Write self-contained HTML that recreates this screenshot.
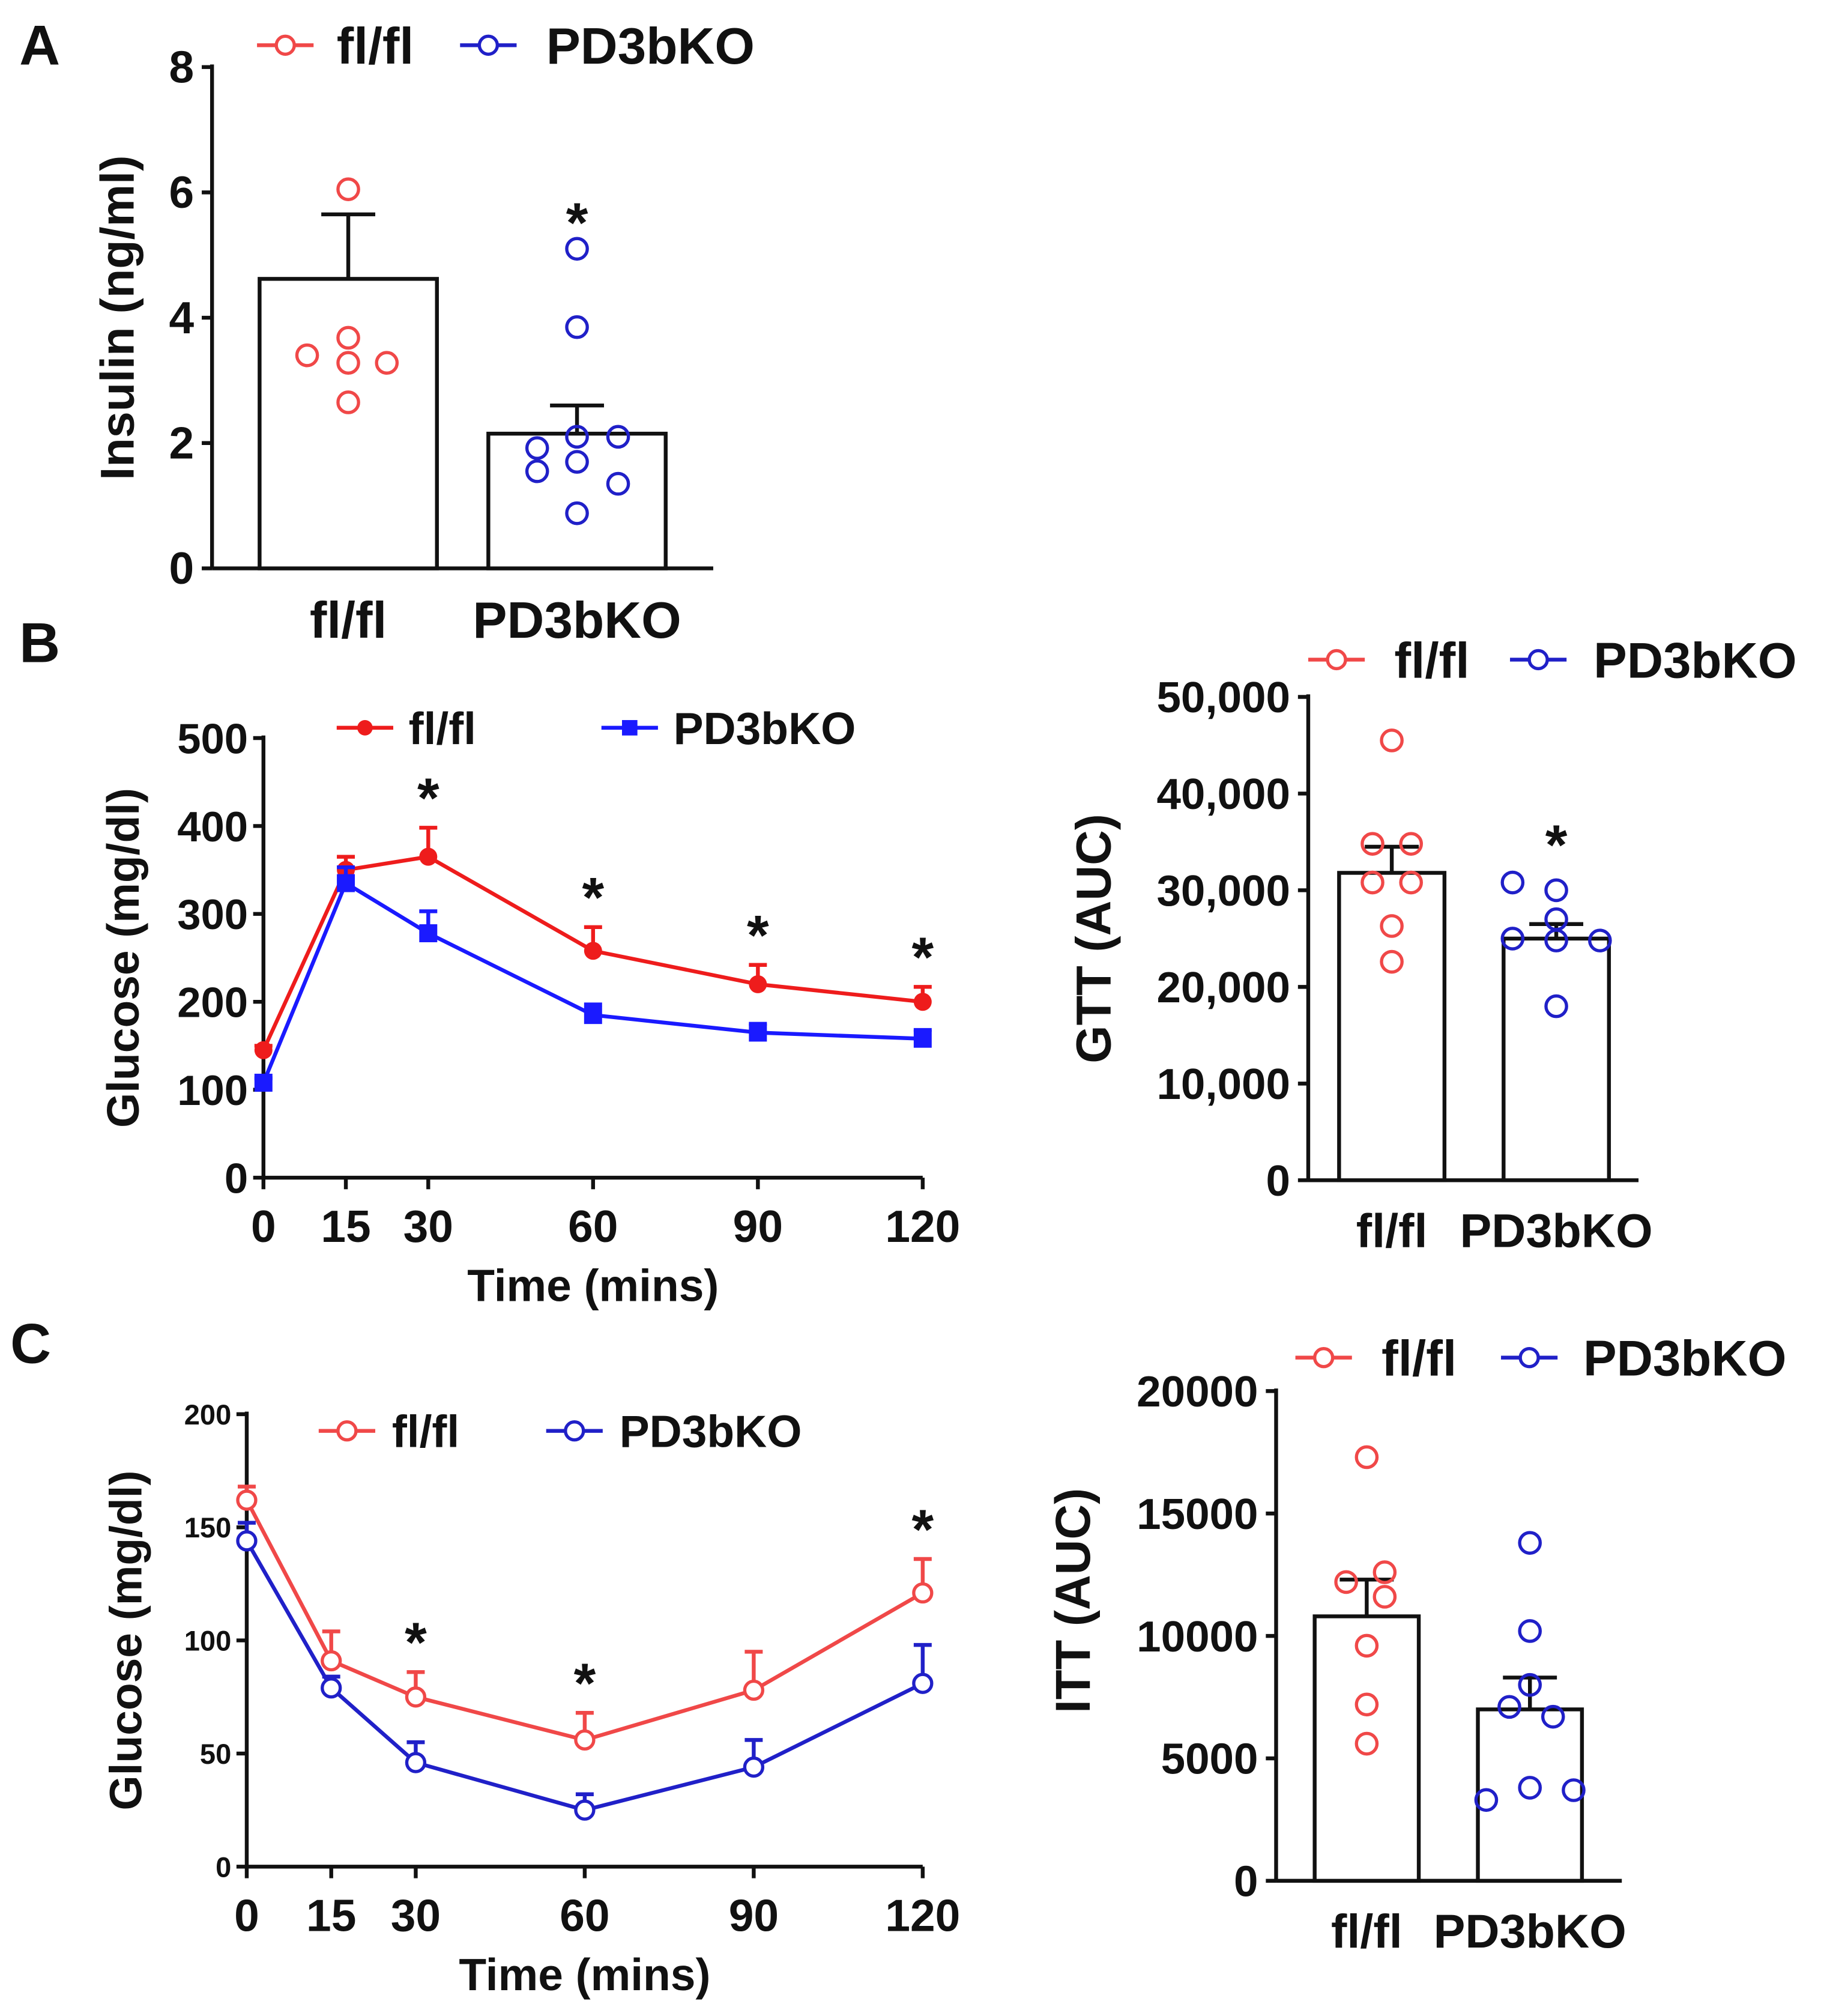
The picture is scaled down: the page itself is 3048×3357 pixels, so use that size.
<!DOCTYPE html>
<html><head><meta charset="utf-8"><style>
html,body{margin:0;padding:0;background:#fff;}
svg{display:block;}
text{font-family:"Liberation Sans",sans-serif;font-weight:bold;fill:#111;}
</style></head><body>
<svg id="fig" width="3048" height="3357" viewBox="0 0 1424 1568" xmlns="http://www.w3.org/2000/svg"></svg>
<script>
// ---- Panel A data ----
const aGroups = ["fl/fl","PD3bKO"];
const aMeans = [4.62, 2.15];
const aErr = [1.03, 0.45];
const aPtsFl = [6.05, 3.4, 3.68, 3.28, 3.28, 2.65];
const aPtsKo = [5.1, 3.85, 1.92, 2.1, 2.1, 1.55, 1.7, 1.35, 0.88];
const aTicks = [0,2,4,6,8];
// ---- Panel B GTT ----
const bTimes = [0,15,30,60,90,120];
const bFl = [145,350,365,258,220,200];
const bFlErr = [5,15,33,27,22,17];
const bKo = [108,335,278,185,165,158];
const bKoErr = [5,18,25,12,10,10];
const bTicks = [0,100,200,300,400,500];
const bStars = [30,60,90,120];
const gMeans = [31800, 25000];
const gErr = [2700, 1500];
const gPtsFl = [45500,34800,34800,30800,30800,26300,22600];
const gPtsKo = [30800,30000,27000,25000,24800,24800,18000];
const gTicks = ["0","10,000","20,000","30,000","40,000","50,000"];
// ---- Panel C ITT ----
const cTimes = [0,15,30,60,90,120];
const cFl = [162,91,75,56,78,121];
const cFlErr = [6,13,11,12,17,15];
const cKo = [144,79,46,25,44,81];
const cKoErr = [8,5,9,7,12,17];
const cTicks = [0,50,100,150,200];
const cStars = [30,60,120];
const iMeans = [10800, 7000];
const iErr = [1500, 1300];
const iPtsFl = [17300,12200,12600,11600,9600,7200,5600];
const iPtsKo = [13800,10200,7100,6700,8000,3300,3800,3700];
const iTicks = [0,5000,10000,15000,20000];

const NS="http://www.w3.org/2000/svg";
const svg=document.getElementById('fig');
const RED="#f04848", BLUE="#2020c8", LRED="#ee1c1c", LBLUE="#1a1aff";
function el(tag,attrs,parent){const e=document.createElementNS(NS,tag);for(const k in attrs)e.setAttribute(k,attrs[k]);(parent||svg).appendChild(e);return e;}
function txt(s,x,y,size,anchor,parent,extra){const t=el('text',Object.assign({x:x,y:y,'font-size':size,'text-anchor':anchor||'middle'},extra||{}),parent);t.textContent=s;return t;}
function group(name){const g=el('g',{});return g;}

function legend(g,x,y,items,size){
  items.forEach((it,i)=>{
    const lg=el('g',{},g);
    
    
    el('line',{x1:it.x,y1:y,x2:it.x+44,y2:y,stroke:it.c,'stroke-width':3},lg);
    if(it.m==='o')el('circle',{cx:it.x+22,cy:y,r:7,fill:'#fff',stroke:it.c,'stroke-width':2.5},lg);
    if(it.m==='d')el('circle',{cx:it.x+22,cy:y,r:6,fill:it.c},lg);
    if(it.m==='s')el('rect',{x:it.x+16,y:y-6,width:12,height:12,fill:it.c},lg);
    txt(it.label,it.tx,y+size*0.36,size,'start',lg);
  });
}

function barPanel(o){
  const g=group(o.name);
  const Y=v=>o.y0+(v-0)*(o.y1-o.y0)/(o.vmax);
  el('line',{x1:o.ax,y1:Y(o.vmax)-2,x2:o.ax,y2:o.y0,stroke:'#111','stroke-width':3},g);
  el('line',{x1:o.ax,y1:o.y0,x2:o.axEnd,y2:o.y0,stroke:'#111','stroke-width':3},g);
  o.ticks.forEach((t,i)=>{
    const v=o.tickVals[i];
    el('line',{x1:o.ax-8,y1:Y(v),x2:o.ax,y2:Y(v),stroke:'#111','stroke-width':3},g);
    const tl=txt(t,o.ax-14,Y(v)+12,o.tsize,'end',g);
    
    
  });
  o.means.forEach((m,i)=>{
    const bx=o.bars[i];
    const r=el('rect',{x:bx,y:Y(m),width:o.bw,height:o.y0-Y(m),fill:'#fff',stroke:'#111','stroke-width':3},g);
    
    
    const cx=bx+o.bw/2;
    el('line',{x1:cx,y1:Y(m),x2:cx,y2:Y(m+o.err[i]),stroke:'#111','stroke-width':3},g);
    el('line',{x1:cx-21,y1:Y(m+o.err[i]),x2:cx+21,y2:Y(m+o.err[i]),stroke:'#111','stroke-width':3},g);
    const pts=i?o.ptsKo:o.ptsFl, offs=i?o.offKo:o.offFl;
    pts.forEach((p,j)=>{
      const c=el('circle',{cx:cx+offs[j],cy:Y(p),r:8,fill:'none',stroke:i?BLUE:RED,'stroke-width':2.5},g);
      
      
    });
    const xl=txt(o.groups[i],cx,o.xly,o.xsize,'middle',g);
    
    
  });
  if(o.star!=null){const s=txt('*',o.bars[1]+o.bw/2,o.star,44,'middle',g);}
  const yt=txt(o.ytitle,0,0,o.ysize,'middle',g,{transform:`translate(${o.ytx},${o.yty}) rotate(-90)`});
  
  
  legend(g,o.ly,o.legY,[{key:'flfl',x:o.lx[0],tx:o.lx[1],c:RED,m:'o',label:'fl/fl'},{key:'pd3bko',x:o.lx[2],tx:o.lx[3],c:BLUE,m:'o',label:'PD3bKO'}],o.lsize||38);
  return g;
}

function linePanel(o){
  const g=group(o.name);
  const X=t=>o.x0+t*(o.x1-o.x0)/120;
  const Y=v=>o.y0+v*(o.y1-o.y0)/o.vmax;
  el('line',{x1:o.x0,y1:Y(o.vmax)-2,x2:o.x0,y2:o.y0,stroke:'#111','stroke-width':3},g);
  el('line',{x1:o.x0,y1:o.y0,x2:o.x1,y2:o.y0,stroke:'#111','stroke-width':3},g);
  o.ticks.forEach(v=>{
    el('line',{x1:o.x0-8,y1:Y(v),x2:o.x0,y2:Y(v),stroke:'#111','stroke-width':3},g);
    const tl=txt(String(v),o.x0-12,Y(v)+o.tsize*0.36,o.tsize,'end',g);
    
    
  });
  o.times.forEach(t=>{
    el('line',{x1:X(t),y1:o.y0,x2:X(t),y2:o.y0+9,stroke:'#111','stroke-width':3},g);
    const tl=txt(String(t),X(t),o.y0+50,35,'middle',g);
    
    
  });
  const series=[{k:'flfl',v:o.fl,e:o.flErr,c:o.cR},{k:'pd3bko',v:o.ko,e:o.koErr,c:o.cB}];
  series.forEach((s,si)=>{
    const sg=el('g',{},g);
    
    
    s.v.forEach((v,i)=>{
      const x=X(o.times[i]);
      el('line',{x1:x,y1:Y(v+s.e[i]),x2:x,y2:Y(v),stroke:s.c,'stroke-width':3},sg);
      el('line',{x1:x-7,y1:Y(v+s.e[i]),x2:x+7,y2:Y(v+s.e[i]),stroke:s.c,'stroke-width':3},sg);
    });
    const d=s.v.map((v,i)=>(i?'L':'M')+X(o.times[i])+','+Y(v)).join(' ');
    const p=el('path',{d:d,fill:'none',stroke:s.c,'stroke-width':3},sg);
    
    
    s.v.forEach((v,i)=>{
      const x=X(o.times[i]);let m;
      if(o.open)m=el('circle',{cx:x,cy:Y(v),r:7,fill:'#fff',stroke:s.c,'stroke-width':2.5},sg);
      else if(si===0)m=el('circle',{cx:x,cy:Y(v),r:7,fill:s.c},sg);
      else m=el('rect',{x:x-7,y:Y(v)-7,width:14,height:14,fill:s.c},sg);
      
      
    });
  });
  o.stars.forEach(t=>{
    const i=o.times.indexOf(t);
    const s=txt('*',X(t),Y(o.fl[i]+o.flErr[i])-8,44,'middle',g);
    
    
  });
  const xt=txt('Time (mins)',o.x0+(o.x1-o.x0)*0.5,o.y0+96,35,'middle',g);
  
  
  const yt=txt('Glucose (mg/dl)',0,0,35,'middle',g,{transform:`translate(${o.ytx},${(o.y0+Y(o.vmax))/2}) rotate(-90)`});
  
  
  legend(g,0,o.legY,[{key:'flfl',x:o.lx[0],tx:o.lx[1],c:o.cR,m:o.open?'o':'d',label:'fl/fl'},{key:'pd3bko',x:o.lx[2],tx:o.lx[3],c:o.cB,m:o.open?'o':'s',label:'PD3bKO'}],35);
}

// panel letters
[['A',15,50],['B',15,515],['C',8,1060]].forEach(l=>{const t=txt(l[0],l[1],l[2],44,'start');});

barPanel({name:'panel-a-insulin',ax:165,axEnd:555,y0:442,y1:52,vmax:8,ticks:aTicks.map(String),tickVals:aTicks,tsize:35,
  means:aMeans,err:aErr,bars:[202,380],bw:138,groups:aGroups,ptsFl:aPtsFl,ptsKo:aPtsKo,
  offFl:[0,-32,0,0,30,0],offKo:[0,0,-31,0,32,-31,0,32,0],xly:496,xsize:40,star:188,
  ytitle:'Insulin (ng/ml)',ysize:37,ytx:104,yty:247,legY:35,lx:[200,262,358,425],lsize:40});

linePanel({name:'panel-b-gtt',x0:205,x1:718,y0:916,y1:574,vmax:500,ticks:bTicks,tsize:33,times:bTimes,fl:bFl,flErr:bFlErr,ko:bKo,koErr:bKoErr,
  cR:LRED,cB:LBLUE,open:false,stars:bStars,ytx:108,legY:566,lx:[262,318,468,524]});

barPanel({name:'panel-b-gtt-auc',ax:1018,axEnd:1275,y0:918,y1:542,vmax:50000,ticks:gTicks,tickVals:[0,10000,20000,30000,40000,50000],tsize:34,
  means:gMeans,err:gErr,bars:[1042,1170],bw:82,groups:aGroups,ptsFl:gPtsFl,ptsKo:gPtsKo,
  offFl:[0,-15,15,-15,15,0,0],offKo:[-34,0,0,-34,0,34,0],xly:970,xsize:37,star:672,
  ytitle:'GTT (AUC)',ysize:38,ytx:864,yty:730,legY:513,lx:[1018,1085,1175,1240],lsize:39});

linePanel({name:'panel-c-itt',x0:192,x1:718,y0:1452,y1:1100,vmax:200,ticks:cTicks,tsize:22,times:cTimes,fl:cFl,flErr:cFlErr,ko:cKo,koErr:cKoErr,
  cR:RED,cB:BLUE,open:true,stars:cStars,ytx:110,legY:1113,lx:[248,305,425,482]});

barPanel({name:'panel-c-itt-auc',ax:993,axEnd:1262,y0:1463,y1:1082,vmax:20000,ticks:iTicks.map(String),tickVals:iTicks,tsize:34,
  means:iMeans,err:iErr,bars:[1023,1150],bw:81,groups:aGroups,ptsFl:iPtsFl,ptsKo:iPtsKo,
  offFl:[0,-16,14,14,0,0,0],offKo:[0,0,-16,18,0,-34,0,34],xly:1515,xsize:37,star:null,
  ytitle:'ITT (AUC)',ysize:38,ytx:848,yty:1245,legY:1056,lx:[1008,1075,1168,1232],lsize:39});
</script>
</body></html>
